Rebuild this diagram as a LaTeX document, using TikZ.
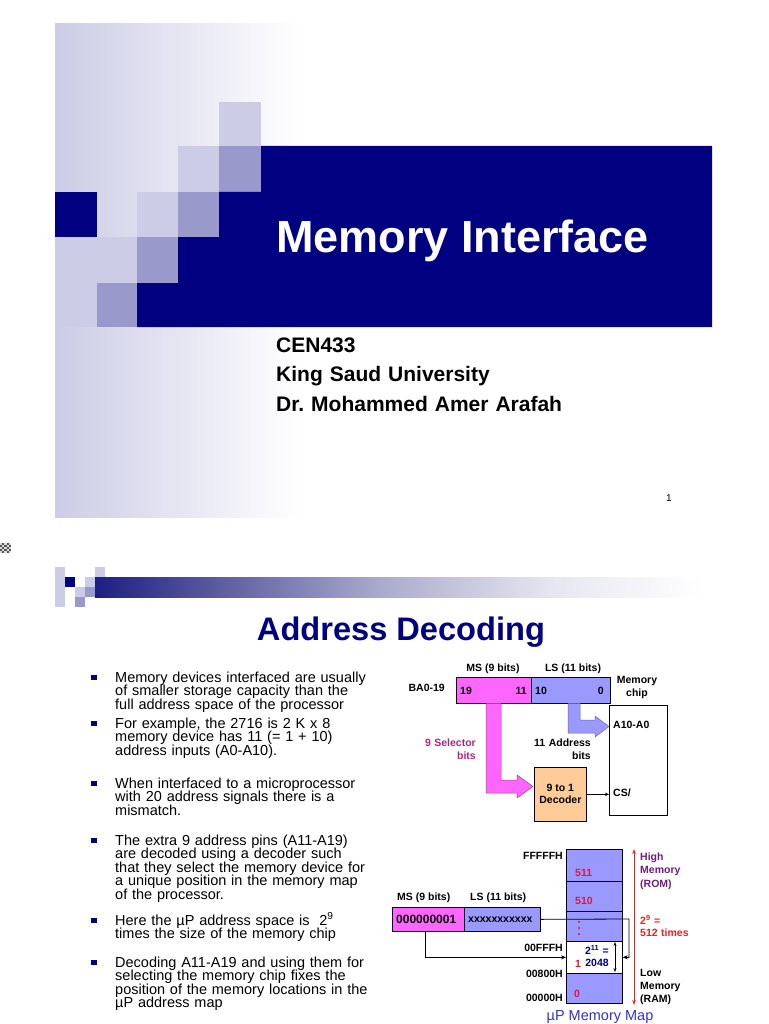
\documentclass[tikz,border=0pt]{standalone}
\usepackage{fontspec}
\setmainfont{Liberation Sans}
\usetikzlibrary{arrows.meta,calc}
\definecolor{navy}{RGB}{0,0,128}
\definecolor{lightlav}{RGB}{204,204,230}
\definecolor{medlav}{RGB}{153,153,204}
\definecolor{pinkbox}{RGB}{255,102,255}
\definecolor{lavbox}{RGB}{153,153,255}
\definecolor{decod}{RGB}{255,204,153}
\definecolor{selcol}{RGB}{170,40,130}
\definecolor{redlab}{RGB}{225,25,55}
\definecolor{brightred}{RGB}{235,30,40}
\definecolor{purplab}{RGB}{110,30,120}
\definecolor{capblue}{RGB}{51,51,204}
\definecolor{barA}{RGB}{30,30,130}
\definecolor{barB}{RGB}{100,100,165}
\definecolor{barC}{RGB}{170,170,205}
\definecolor{barD}{RGB}{230,230,240}
\pgfdeclarehorizontalshading{barshade}{100bp}{color(0bp)=(barA); color(25bp)=(barA); color(36.5bp)=(barB); color(48.5bp)=(barC); color(62.5bp)=(barD); color(75bp)=(white); color(100bp)=(white)}
\frenchspacing
\tikzset{
  lbl/.style={inner sep=0, font=\fontsize{10.5}{13}\selectfont\bfseries},
  boxbase/.style={draw=black, line width=0.7, inner sep=0, anchor=north west},
  pinkbx/.style={boxbase, fill=pinkbox},
  lavbx/.style={boxbase, fill=lavbox},
  bul/.style={fill=navy, minimum size=5.5, inner sep=0},
  btxt/.style={inner sep=0, anchor=base west, text width=270, align=left, font=\fontsize{14.5}{13.6}\selectfont},
  conn/.style={line width=0.8},
  tip/.style={-{Stealth[length=5,width=4]}},
}
\begin{document}
\begin{tikzpicture}[x=1pt,y=-1pt]
\useasboundingbox (0,0) rectangle (768,1024);
\fill[white] (0,0) rectangle (768,1024);

% ---------------- Slide 1 ----------------
\shade[left color=lightlav, right color=white] (55,24) rectangle (300,517);
% squares
\fill[lightlav] (219,102) rectangle (261,146);
\fill[lightlav] (178,146) rectangle (219,192);
\fill[lightlav] (137,192) rectangle (178,237);
\fill[lightlav] (97,237) rectangle (137,283);
\fill[lightlav] (55,237) rectangle (97,327);
\fill[medlav] (219,146) rectangle (261,192);
\fill[medlav] (178,192) rectangle (219,237);
\fill[medlav] (137,237) rectangle (178,283);
\fill[medlav] (97,283) rectangle (137,327);
\fill[navy] (55,192) rectangle (97,237);
\fill[navy] (261,146) -- (712,146) -- (712,327) -- (137,327) -- (137,283) -- (178,283)
  -- (178,237) -- (219,237) -- (219,192) -- (261,192) -- cycle;
\node[inner sep=0, anchor=base west, text=white, font=\fontsize{45}{50}\selectfont\bfseries] (title1) at (276,252) {Memory Interface};
\node[inner sep=0, anchor=base west, text width=400, align=left, font=\fontsize{21}{29.5}\selectfont\bfseries] (sub1) at (276,352)
  {CEN433\\King Saud University\\Dr. Mohammed Amer Arafah};
\node[inner sep=0, anchor=base west, font=\fontsize{10}{12}\selectfont] (pg1) at (666,501) {1};

% small checker icon
\fill[black!15] (0,543) rectangle (11,553);
\foreach \i in {0,...,4}{\foreach \j in {0,...,4}{%
  \pgfmathtruncatemacro\s{\i+\j}%
  \ifodd\s\fill[black!65] (\i*2.2,543+\j*2) rectangle ++(2.2,2);\fi}}

% ---------------- Slide 2 ----------------
\fill[lightlav] (55,567) rectangle (65,607);
\fill[lightlav] (95,567) rectangle (105,577);
\fill[lightlav] (85,577) rectangle (95,587);
\fill[lightlav] (75,587) rectangle (85,597);
\fill[medlav] (85,587) rectangle (95,597);
\fill[medlav] (75,597) rectangle (85,607);
\fill[navy] (65,577) rectangle (75,587);
\shade[shading=barshade] (95,577) rectangle (702,597);

\node[inner sep=0, anchor=base, text=navy, font=\fontsize{32.6}{36}\selectfont\bfseries] (title2) at (401,640) {Address Decoding};

% bullets
\node[btxt] (p1) at (115,682) {Memory devices interfaced are usually\\of smaller storage capacity than the\\full address space of the processor};
\node[btxt] (p2) at (115,728) {For example, the 2716 is 2 K x 8\\memory device has 11 (= 1 + 10)\\address inputs (A0-A10).};
\node[btxt] (p3) at (115,788) {When interfaced to a microprocessor\\with 20 address signals there is a\\mismatch.};
\node[btxt] (p4) at (115,845) {The extra 9 address pins (A11-A19)\\are decoded using a decoder such\\that they select the memory device for\\a unique position in the memory map\\of the processor.};
\node[btxt] (p5) at (115,925) {Here the µP address space is \ 2\textsuperscript{9}\\times the size of the memory chip};
\node[btxt] (p6) at (115,967) {Decoding A11-A19 and using them for\\selecting the memory chip fixes the\\position of the memory locations in the\\µP address map};
\foreach \b in {682,728,788,845,925,967} \node[bul] at (94,\b-4.5) {};

% -------- diagram 1 --------
\node[lbl, anchor=base] (msl1) at (493,671) {MS (9 bits)};
\node[lbl, anchor=base] (lsl1) at (573,671) {LS (11 bits)};
\node[lbl, anchor=base east] (ba) at (445,691) {BA0-19};
\node[pinkbx, minimum width=75, minimum height=26] (ms1) at (456,677) {};
\node[lavbx, minimum width=79, minimum height=26] (ls1) at (531,677) {};
\node[lbl, anchor=base west] at (460,694) {19};
\node[lbl, anchor=base east] at (527,694) {11};
\node[lbl, anchor=base west] at (535,694) {10};
\node[lbl, anchor=base east] at (604,694) {0};
\node[lbl, anchor=base, text width=60, align=center] (memchip) at (637,683) {Memory\\chip};
\node[boxbase, fill=white, minimum width=58, minimum height=110] (chip) at (609,705) {};
\node[lbl, anchor=base west] (a10) at (613,728) {A10-A0};
\node[lbl, anchor=base west] (cs) at (613,796) {CS/};
% fat arrows
\filldraw[fill=lavbox, draw=navy!60, line width=0.5] (568,703.4) -- (568,733) -- (595,733) -- (595,737) -- (609,726.5)
  -- (595,716) -- (595,720) -- (580,720) -- (580,703.4);
\filldraw[fill=pinkbox, draw=magenta!60!black, line width=0.5] (486,703.4) -- (486,793) -- (517,793) -- (517,798) -- (533,786.5)
  -- (517,775) -- (517,780) -- (501,780) -- (501,703.4);
\node[lbl, anchor=base east, text=selcol, text width=70, align=right] (sel) at (476,746) {9 Selector\\bits};
\node[lbl, anchor=base east, text width=80, align=right] (addr) at (591,746) {11 Address\\bits};
\node[boxbase, fill=decod, minimum width=52, minimum height=54, align=center, font=\fontsize{10.5}{12}\selectfont\bfseries] (dec) at (534,767) {9 to 1\\Decoder};
\draw[conn, -{Stealth[length=4,width=3.5]}] (dec.east) -- (dec.east -| chip.west);

% -------- diagram 2 --------
\node[lavbx, minimum width=56, minimum height=32] (m511) at (566,849) {};
\node[lavbx, minimum width=56, minimum height=30] (m510) at (566,881) {};
\node[lavbx, minimum width=56, minimum height=30] (mdots) at (566,911) {};
\node[boxbase, fill=white, minimum width=56, minimum height=32] (m1) at (566,941) {};
\node[lavbx, minimum width=56, minimum height=30] (m0) at (566,973) {};
\node[lbl, anchor=base west, text=redlab] at (575,876) {511};
\node[lbl, anchor=base west, text=redlab] at (575,904) {510};
\foreach \d in {922,928,934} \fill[redlab] (579,\d) circle (1.1);
\node[lbl, anchor=base west, text=redlab] at (575,967) {1};
\node[lbl, anchor=base west, text=redlab] at (574,997) {0};
\node[lbl, anchor=base, text=navy, text width=40, align=center] (sz) at (597,954) {2\textsuperscript{11} =\\[-0.5pt]2048};
\node[lbl, anchor=base east] at (563,859) {FFFFFH};
\node[lbl, anchor=base east] at (563,951) {00FFFH};
\node[lbl, anchor=base east] at (563,977) {00800H};
\node[lbl, anchor=base east] at (563,1001) {00000H};
\draw[conn, {Stealth[length=4,width=3]}-{Stealth[length=4,width=3]}] (615,942) -- (615,972);
\draw[brightred, line width=0.8, {Stealth[length=5,width=3.5]}-{Stealth[length=5,width=3.5]}] (634,849) -- (634,1005);
\node[lbl, anchor=base west, text=purplab, text width=60, align=left, font=\fontsize{10.5}{13.5}\selectfont\bfseries] (high) at (640,860) {High\\Memory\\(ROM)};
\node[lbl, anchor=base west, text=brightred, text width=70, align=left, font=\fontsize{10.5}{12.5}\selectfont\bfseries] (times) at (640,924) {2\textsuperscript{9} =\\512 times};
\node[lbl, anchor=base west, text width=60, align=left, font=\fontsize{10.5}{13}\selectfont\bfseries] (low) at (640,976) {Low\\Memory\\(RAM)};

\node[lbl, anchor=base west] at (397,900) {MS (9 bits)};
\node[lbl, anchor=base west] at (470,900) {LS (11 bits)};
\node[pinkbx, minimum width=72, minimum height=24] (ms2) at (392,907) {};
\node[lavbx, minimum width=76, minimum height=24] (ls2) at (464,907) {};
\node[inner sep=0, anchor=base west, font=\fontsize{12}{14}\selectfont\bfseries] at (396,923) {000000001};
\node[lbl, anchor=base west] at (468,922) {xxxxxxxxxxx};
\coordinate (msdrop) at (425,931);
\coordinate (rturn) at (629,919);
\draw[conn, tip] (msdrop) |- (m1.west);
\draw[conn, tip] (ls2.east) -- (rturn) |- (m1.east);

\node[inner sep=0, anchor=base, text=capblue, font=\fontsize{14.5}{16}\selectfont] (cap) at (600,1020.5) {µP Memory Map};
\end{tikzpicture}
\end{document}
